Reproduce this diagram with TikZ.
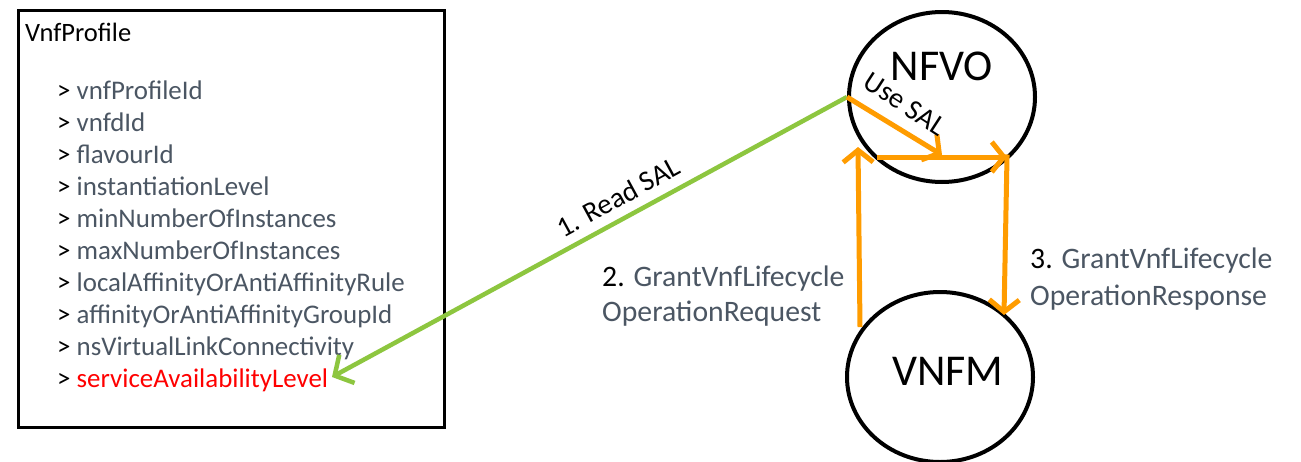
\documentclass[tikz,border=0pt]{standalone}
\usepackage{fontspec}
\setmainfont{Carlito}
\usetikzlibrary{arrows.meta,shapes.geometric}
\definecolor{orng}{HTML}{FF9C00}
\definecolor{grn}{HTML}{8DC63F}
\definecolor{txtgray}{HTML}{4B5663}
\definecolor{salred}{HTML}{FF0000}
\begin{document}
\begin{tikzpicture}[x=1pt,y=-1pt,
  item/.style={anchor=base west,inner sep=0pt,font=\fontsize{26.9}{32}\selectfont,text=txtgray},
  big/.style={anchor=base,inner sep=0pt,font=\fontsize{44}{50}\selectfont},
  lbl/.style={anchor=base west,inner sep=0pt,font=\fontsize{29.7}{35}\selectfont,text=txtgray},
  rlbl/.style={inner sep=0pt,font=\fontsize{28.5}{35}\selectfont},
  entity/.style={draw,ellipse,line width=4pt,minimum width=186pt,minimum height=170pt,inner sep=0pt},
  oarrow/.style={draw=orng,line width=5pt,-{Straight Barb[length=12pt,width=30pt,line width=5pt]}},
  garrow/.style={draw=grn,line width=4.5pt,-{Straight Barb[length=14pt,width=32pt,line width=4.5pt]}}]
\useasboundingbox[fill=white] (0,0) rectangle (1301,461);
% VnfProfile box
\node[draw,line width=3pt,minimum width=426pt,minimum height=417pt,inner sep=0pt] (box) at (231,218.5) {};
\node[anchor=base west,inner sep=0pt,font=\fontsize{26.5}{32}\selectfont] (title) at (25,41) {VnfProfile};
\foreach \t [count=\i] in {vnfProfileId,vnfdId,flavourId,instantiationLevel,minNumberOfInstances,maxNumberOfInstances,localAffinityOrAntiAffinityRule,affinityOrAntiAffinityGroupId,nsVirtualLinkConnectivity}
  \node[item] (it\i) at (57,67+32*\i) {\textcolor{black}{>} \t};
\node[item,text=salred] (salitem) at (57,387) {\textcolor{black}{>} serviceAvailabilityLevel};
% entities
\node[entity] (nfvo) at (942,97) {};
\node[big] (nfvolbl) at (942,80) {NFVO};
\node[entity] (vnfm) at (940,377) {};
\node[big] (vnfmlbl) at (948,385) {VNFM};
% coordinates
\coordinate (tipG) at (332,377);
\coordinate (u1) at (942,155);
\coordinate (h1) at (877,157);
\coordinate (h2) at (1007,157);
\coordinate (d2) at (1004,315);
\coordinate (up1) at (860,327);
\coordinate (up2) at (858,147);
% connectors
\draw[garrow] (nfvo.west) -- (tipG);
\draw[oarrow] (nfvo.west) -- (u1);
\draw[oarrow] (h1) -- (h2);
\draw[oarrow,shorten <=-2.5pt] (h2) -- (d2);
\draw[oarrow] (up1) -- (up2);
% labels
\node[rlbl,rotate=28.5] (readsal) at (618,197) {1. Read SAL};
\node[rlbl,rotate=-33] (usesal) at (905,104) {Use SAL};
\node[lbl] (l2a) at (602,286) {\textcolor{black}{2.} GrantVnfLifecycle};
\node[lbl] (l2b) at (602,321) {OperationRequest};
\node[lbl] (l3a) at (1030,268) {\textcolor{black}{3.} GrantVnfLifecycle};
\node[lbl] (l3b) at (1030,305) {OperationResponse};
\end{tikzpicture}
\end{document}
